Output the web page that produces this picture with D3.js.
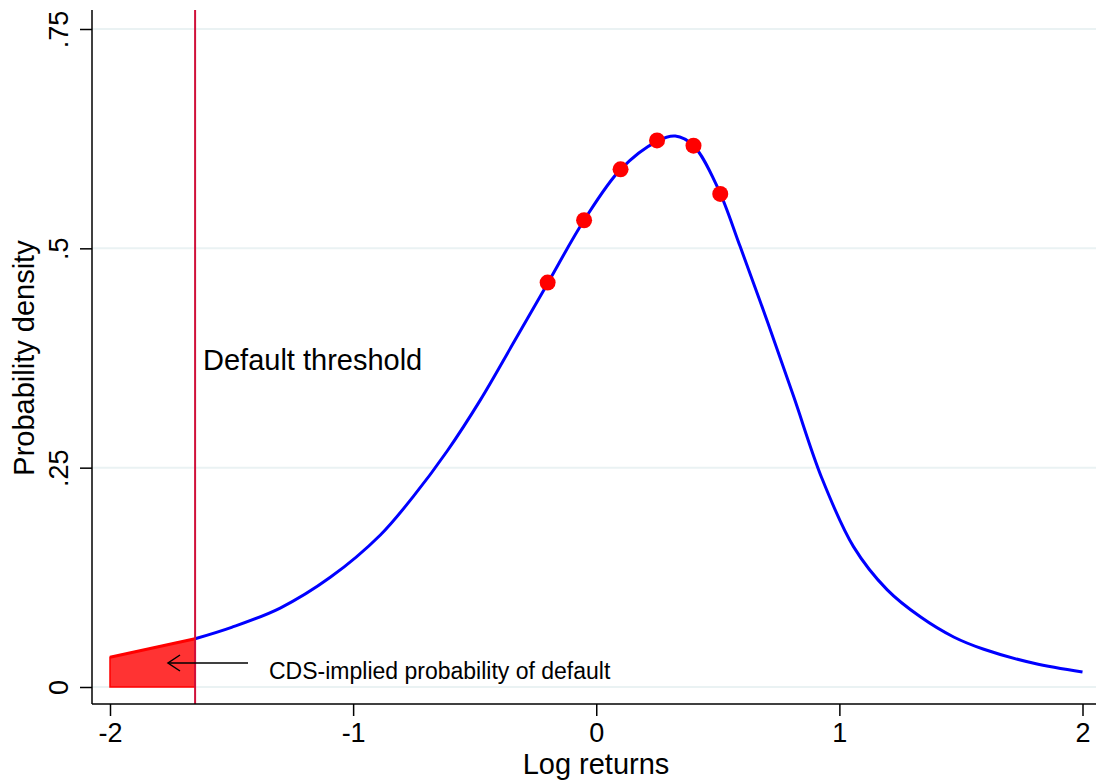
<!DOCTYPE html>
<html><head><meta charset="utf-8">
<script src="https://cdn.jsdelivr.net/npm/d3@7"></script>
<style>body{margin:0;background:#fff}svg{display:block}text{font-family:"Liberation Sans",Arial,sans-serif;fill:#000}</style>
</head><body>
<svg id="c" width="1096" height="783"></svg>
<script>
// Density curve
const curveX = [-2, -1.65, -1.5, -1.3, -1.094, -0.889, -0.753, -0.613, -0.477, -0.341, -0.2, -0.05, 0.1, 0.25, 0.325, 0.4, 0.5, 0.592, 0.702, 0.812, 0.928, 1.058, 1.196, 1.333, 1.47, 1.594, 1.8, 2.0];
const curveY = [0.034, 0.055, 0.068, 0.090, 0.125, 0.173, 0.217, 0.269, 0.327, 0.392, 0.460, 0.532, 0.590, 0.622, 0.628, 0.617, 0.569, 0.502, 0.418, 0.331, 0.238, 0.160, 0.111, 0.080, 0.057, 0.043, 0.027, 0.017];
// Observed points
const pointX = [-0.2, -0.05, 0.1, 0.25, 0.4, 0.51];
const pointY = [0.461, 0.532, 0.590, 0.623, 0.617, 0.562];
const threshold = -1.65;
const xTicks = [-2, -1, 0, 1, 2];
const xTickLabels = ["-2", "-1", "0", "1", "2"];
const yTicks = [0, 0.25, 0.5, 0.75];
const yTickLabels = ["0", ".25", ".5", ".75"];

const svg = d3.select("#c");
const x = d3.scaleLinear().domain([-2, 2]).range([110, 1082.5]);
const y = d3.scaleLinear().domain([0, 0.75]).range([687, 29]);
const axisX0 = 92, axisYb = 704;

// gridlines
svg.append("g").selectAll("line").data(yTicks).join("line")
  .attr("x1", axisX0).attr("x2", 1096).attr("y1", d => y(d)).attr("y2", d => y(d))
  .attr("stroke", "#eaf2f3").attr("stroke-width", 2);

const pts = curveX.map((v, i) => [v, curveY[i]]);
const cv = d3.curveCatmullRom.alpha(0.5);
const line = d3.line().x(d => x(d[0])).y(d => y(d[1])).curve(cv);

// shaded tail
const tail = pts.filter(d => d[0] <= threshold);
const area = d3.area().x(d => x(d[0])).y0(y(0)).y1(d => y(d[1])).curve(cv);
svg.append("path").attr("d", area(tail)).attr("fill", "#ff3333").attr("stroke", "#ff0000").attr("stroke-width", 1.5);
svg.append("path").attr("d", line(tail)).attr("fill", "none").attr("stroke", "#ff0000").attr("stroke-width", 3);

// curve (right of threshold)
svg.append("path").attr("d", line(pts.filter(d => d[0] >= threshold)))
  .attr("fill", "none").attr("stroke", "#0000ff").attr("stroke-width", 3);

// threshold line
svg.append("line").attr("x1", x(threshold)).attr("x2", x(threshold)).attr("y1", 10).attr("y2", axisYb)
  .attr("stroke", "#d0103a").attr("stroke-width", 2);

// points
svg.append("g").selectAll("circle").data(pointX).join("circle")
  .attr("cx", d => x(d)).attr("cy", (d, i) => y(pointY[i])).attr("r", 8).attr("fill", "#ff0000");

// axes
const gy = svg.append("g").attr("transform", `translate(${axisX0},0)`)
  .call(d3.axisLeft(y).tickValues(yTicks).tickSize(12).tickFormat((d, i) => yTickLabels[i]));
gy.select(".domain").attr("d", `M0,10V${axisYb}`).attr("stroke", "#000").attr("stroke-width", 1.5);
gy.selectAll(".tick line").attr("stroke", "#000").attr("stroke-width", 1.5);
gy.selectAll(".tick text").attr("font-size", 27).attr("text-anchor", "middle")
  .attr("x", 0).attr("y", 0).attr("dy", 0)
  .attr("transform", "translate(-24,0) rotate(-90)");

const gx = svg.append("g").attr("transform", `translate(0,${axisYb})`)
  .call(d3.axisBottom(x).tickValues(xTicks).tickSize(12).tickFormat((d, i) => xTickLabels[i]));
gx.select(".domain").attr("d", `M${axisX0},0H1096`).attr("stroke", "#000").attr("stroke-width", 1.5);
gx.selectAll(".tick line").attr("stroke", "#000").attr("stroke-width", 1.5);
gx.selectAll(".tick text").attr("font-size", 27).attr("y", 38).attr("dy", 0);

// axis titles
svg.append("text").attr("x", 596).attr("y", 774).attr("text-anchor", "middle").attr("font-size", 29).text("Log returns");
svg.append("text").attr("transform", "translate(34,358) rotate(-90)").attr("text-anchor", "middle").attr("font-size", 29).text("Probability density");

// annotations
svg.append("text").attr("x", 203).attr("y", 370).attr("font-size", 29).text("Default threshold");
svg.append("line").attr("x1", 248).attr("x2", 168).attr("y1", 663).attr("y2", 663).attr("stroke", "#000").attr("stroke-width", 1.5);
svg.append("path").attr("d", "M180,655L168,663L180,671").attr("fill", "none").attr("stroke", "#000").attr("stroke-width", 1.5);
svg.append("text").attr("x", 269).attr("y", 679).attr("font-size", 23).text("CDS-implied probability of default");
</script>
</body></html>
